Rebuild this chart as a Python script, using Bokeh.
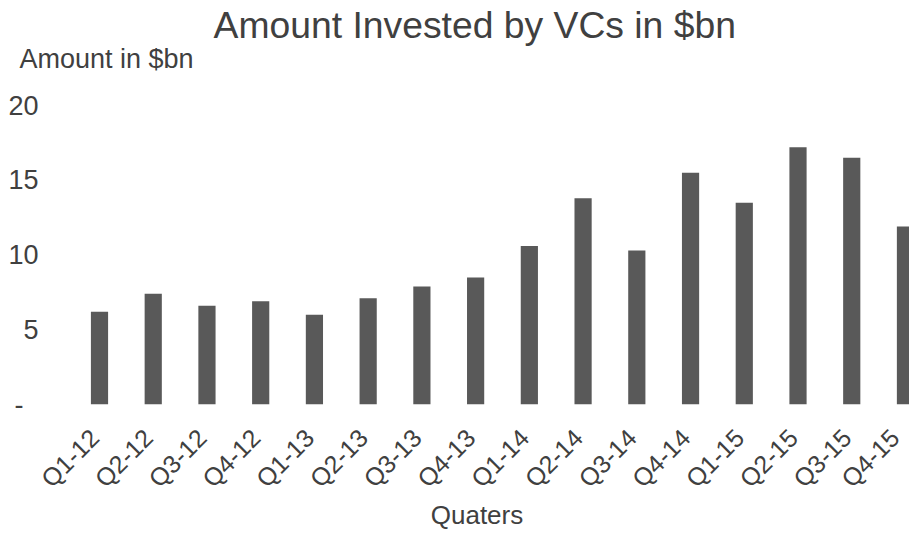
from bokeh.plotting import figure
from bokeh.models import Range1d, FixedTicker, Title
from bokeh.embed import file_html
from bokeh.resources import INLINE
import math

quarters = ["Q1-12", "Q2-12", "Q3-12", "Q4-12", "Q1-13", "Q2-13", "Q3-13", "Q4-13",
            "Q1-14", "Q2-14", "Q3-14", "Q4-14", "Q1-15", "Q2-15", "Q3-15", "Q4-15"]
amounts = [6.2, 7.4, 6.6, 6.9, 6.0, 7.1, 7.9, 8.5,
           10.6, 13.8, 10.3, 15.5, 13.5, 17.2, 16.5, 11.9]
y_ticks = [0, 5, 10, 15, 20]
y_tick_labels = {0: "-\u00a0\u00a0", 5: "5", 10: "10", 15: "15", 20: "20"}

title_text = "Amount Invested by VCs in $bn"
y_title_text = "Amount in $bn"
x_title_text = "Quaters"

FONT = "Liberation Sans"
TEXT = "#404040"
BAR = "#595959"

xs = list(range(len(quarters)))

p = figure(width=909, height=533, output_backend="svg", toolbar_location=None,
           x_range=Range1d(-1.0236, 15.075), y_range=Range1d(0, 20),
           min_border_left=44, min_border_right=0, min_border_top=10, min_border_bottom=129,
           title=None)

p.vbar(x=xs, top=amounts, width=0.32, fill_color=BAR, line_color=None)

# white (invisible) spacer between the frame and the axis caption
spacer = Title(text=".", text_font=FONT, text_font_size="10px", standoff=27,
               text_color="#ffffff")
p.add_layout(spacer, "above")
sub = Title(text=y_title_text, align="left", offset=-25,
            text_font=FONT, text_font_size="27px", text_font_style="normal",
            text_color=TEXT, standoff=-11)
p.add_layout(sub, "above")
main = Title(text=title_text, align="left", offset=169,
             text_font=FONT, text_font_size="37.3px", text_font_style="normal",
             text_color=TEXT, standoff=3)
p.add_layout(main, "above")

p.xgrid.visible = False
p.ygrid.visible = False
p.outline_line_color = None

p.yaxis.ticker = FixedTicker(ticks=y_ticks)
p.yaxis.major_label_overrides = y_tick_labels
p.yaxis.axis_line_color = None
p.yaxis.major_tick_line_color = None
p.yaxis.minor_tick_line_color = None
p.yaxis.major_tick_out = 0
p.yaxis.major_tick_in = 0
p.yaxis.major_label_standoff = 6
p.yaxis.major_label_text_font = FONT
p.yaxis.major_label_text_font_size = "27px"
p.yaxis.major_label_text_color = TEXT

p.xaxis.ticker = FixedTicker(ticks=xs)
p.xaxis.major_label_overrides = {i: q + "\u00a0" for i, q in enumerate(quarters)}
p.xaxis.major_label_orientation = math.pi / 4
p.xaxis.axis_line_color = None
p.xaxis.major_tick_line_color = None
p.xaxis.minor_tick_line_color = None
p.xaxis.major_tick_out = 0
p.xaxis.major_tick_in = 0
p.xaxis.major_label_standoff = 24
p.xaxis.major_label_text_font = FONT
p.xaxis.major_label_text_font_size = "25px"
p.xaxis.major_label_text_color = TEXT
p.xaxis.axis_label = x_title_text
p.xaxis.axis_label_text_font = FONT
p.xaxis.axis_label_text_font_size = "26px"
p.xaxis.axis_label_text_font_style = "normal"
p.xaxis.axis_label_text_color = TEXT
p.xaxis.axis_label_standoff = -5

open("out.html", "w").write(file_html(p, INLINE))
